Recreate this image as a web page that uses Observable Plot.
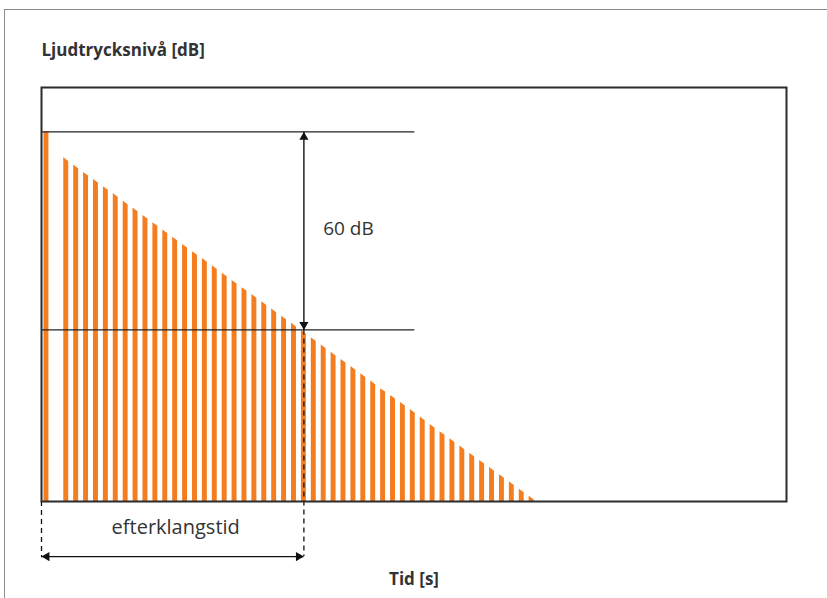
<!DOCTYPE html>
<html>
<head>
<meta charset="utf-8">
<script src="https://cdn.jsdelivr.net/npm/d3@7"></script>
<script src="https://cdn.jsdelivr.net/npm/@observablehq/plot@0.6"></script>
<style>
  html, body { margin: 0; padding: 0; background: #fff; }
  #wrap { position: relative; width: 827px; height: 598px; overflow: hidden; }
  #border { position: absolute; left: 4px; top: 9px; width: 2000px; height: 2000px;
            border-left: 1px solid #8a8a8a; border-top: 1px solid #8a8a8a; pointer-events: none; }
</style>
</head>
<body>
<div id="wrap"><div id="border"></div></div>
<script>
// Pulse times (ms) of each bar; the first one is the steady sound before the source stops
const pulseTimeMs = [25, 125, 175, 225, 275, 325, 375, 425, 475, 525, 575, 625, 675, 725, 775,
  825, 875, 925, 975, 1025, 1075, 1125, 1175, 1225, 1275, 1325, 1375, 1425, 1475, 1525, 1575,
  1625, 1675, 1725, 1775, 1825, 1875, 1925, 1975, 2025, 2075, 2125, 2175, 2225, 2275, 2325,
  2375, 2425, 2475];
// Sound pressure level of each pulse (dB above the chart's floor)
const levelDb = [112, 104.2, 101.9, 99.7, 97.6, 95.4, 93.3, 91.0, 88.9, 86.7, 84.5, 82.3, 80.1,
  77.9, 75.7, 73.6, 71.4, 69.2, 67.0, 64.8, 62.7, 60.5, 58.3, 56.1, 54.0, 51.8, 49.6, 47.4,
  45.2, 43.0, 40.9, 38.7, 36.5, 34.2, 32.1, 30.0, 27.9, 25.6, 23.3, 21.1, 19.0, 16.8, 14.6,
  12.4, 10.3, 8.1, 6.0, 3.7, 1.6];
const refLevel = 112;          // starting level
const decayLevel = 52;         // 60 dB below
const reverbTimeMs = 1325;     // efterklangstid
const refLineEndMs = 1885;
const labels = {yTitle: "Ljudtrycksnivå [dB]", xTitle: "Tid [s]", span: "60 dB", rt: "efterklangstid"};

const xDomain = [0, 3762];
const yDomain = [0, 125.45];
const bracketLevel = -16.7;
const ORANGE = "#f47d20";
const INK = "#111";
const TEXT = "#333";

const barWidth = 25;
const n = pulseTimeMs.length;
const barPts = [];
pulseTimeMs.forEach((t, i) => {
  const v = levelDb[i];
  let drop = 0;
  if (i > 0) drop = i < n - 1 ? (v - levelDb[i + 1]) * 0.5 : (levelDb[i - 1] - v) * 0.5;
  barPts.push({bar: i, t: t - barWidth / 2, v});
  barPts.push({bar: i, t: t + barWidth / 2, v: v - drop});
});

const head = {symbol: "triangle", r: 3.4, fill: INK, stroke: "none", x: "t", y: "v"};

const chart = Plot.plot({
  width: 827,
  height: 598,
  marginLeft: 41,
  marginRight: 41,
  marginTop: 87,
  marginBottom: 97,
  style: {fontFamily: "'Open Sans', sans-serif", background: "transparent"},
  x: {domain: xDomain, axis: null},
  y: {domain: yDomain, axis: null},
  marks: [
    Plot.areaY(barPts, {x: "t", y: "v", z: "bar", fill: ORANGE}),
    Plot.ruleY([refLevel, decayLevel], {x1: 0, x2: refLineEndMs, stroke: "#222", strokeWidth: 1.2}),
    Plot.ruleX([reverbTimeMs], {y1: refLevel, y2: decayLevel, stroke: INK, strokeWidth: 1.4}),
    Plot.dot([{t: reverbTimeMs, v: refLevel}], {...head, dy: 5.3}),
    Plot.dot([{t: reverbTimeMs, v: decayLevel}], {...head, rotate: 180, dy: -5.3}),
    Plot.ruleX([0, reverbTimeMs], {y1: d => d === 0 ? 0 : decayLevel, y2: bracketLevel,
      stroke: INK, strokeWidth: 1.3, strokeDasharray: "5,4"}),
    Plot.ruleY([bracketLevel], {x1: 0, x2: reverbTimeMs, stroke: INK, strokeWidth: 1.4}),
    Plot.dot([{t: 0, v: bracketLevel}], {...head, rotate: -90, dx: 5.3}),
    Plot.dot([{t: reverbTimeMs, v: bracketLevel}], {...head, rotate: 90, dx: -5.3}),
    Plot.text([labels.span], {x: 1550, y: 82.7, text: d => d, fontSize: 19, fill: TEXT, textAnchor: "middle"}),
    Plot.text([labels.rt], {x: reverbTimeMs / 2 + 15, y: -8, text: d => d, fontSize: 20, fill: TEXT, textAnchor: "middle"}),
    Plot.text([labels.yTitle], {frameAnchor: "top-left", text: d => d, textAnchor: "start", lineAnchor: "bottom",
      dy: -32, fontSize: 17, fontWeight: "bold", fill: TEXT}),
    Plot.text([labels.xTitle], {frameAnchor: "bottom", text: d => d, textAnchor: "middle", lineAnchor: "bottom",
      dy: 83, fontSize: 17, fontWeight: "bold", fill: TEXT}),
    Plot.frame({stroke: "#2b2b2b", strokeWidth: 2})
  ]
});
document.getElementById("wrap").prepend(chart);
</script>
</body>
</html>
